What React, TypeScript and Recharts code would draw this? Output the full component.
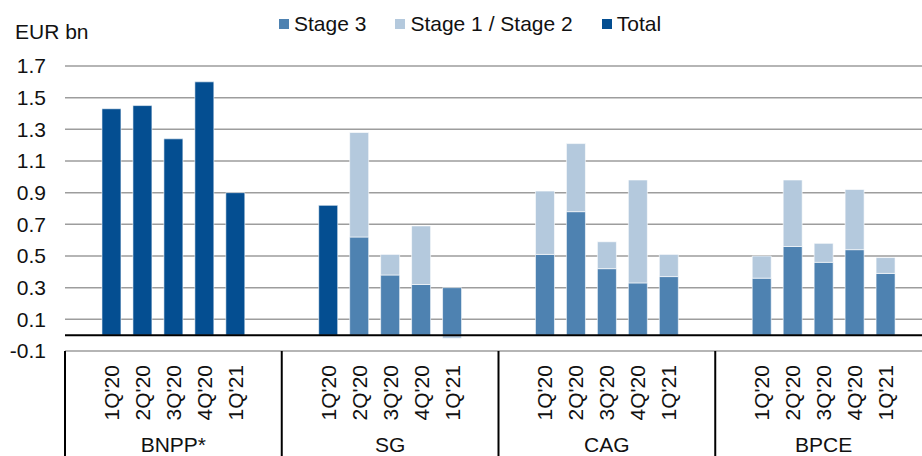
import React from "react";
import {
  BarChart,
  Bar,
  XAxis,
  YAxis,
  CartesianGrid,
  ReferenceLine,
} from "recharts";

const BANKS = ["BNPP*", "SG", "CAG", "BPCE"];
const QUARTERS = ["1Q'20", "2Q'20", "3Q'20", "4Q'20", "1Q'21"];

// EUR bn per bank, one value per quarter (null = not reported that way)
const TOTAL: (number | null)[][] = [
  [1.43, 1.45, 1.24, 1.6, 0.9],
  [0.82, null, null, null, null],
  [null, null, null, null, null],
  [null, null, null, null, null],
];
const STAGE_3: (number | null)[][] = [
  [null, null, null, null, null],
  [null, 0.62, 0.38, 0.32, 0.3],
  [0.51, 0.78, 0.42, 0.33, 0.37],
  [0.36, 0.56, 0.46, 0.54, 0.39],
];
const STAGE_12: (number | null)[][] = [
  [null, null, null, null, null],
  [null, 0.66, 0.13, 0.37, -0.02],
  [0.4, 0.43, 0.17, 0.65, 0.14],
  [0.14, 0.42, 0.12, 0.38, 0.1],
];

const Y_TICKS = [-0.1, 0.1, 0.3, 0.5, 0.7, 0.9, 1.1, 1.3, 1.5, 1.7];

const COLORS = {
  total: "#044e91",
  stage3: "#4e82b1",
  stage12: "#b4c9dd",
};

const FONT = "'Liberation Sans', Arial, sans-serif";
const FONT_SIZE = 21;

const CHART_W = 932;
const CHART_H = 456;
const Y_AXIS_W = 65;
const X_AXIS_H = 105;
const SLOTS_PER_BANK = QUARTERS.length + 2;

// each bank gets an empty slot before and after its five quarters
type Row = {
  key: string;
  bank: string;
  quarter: string;
  total: number | null;
  stage3: number | null;
  stage12: number | null;
};

const rows: Row[] = [];
BANKS.forEach((bank, b) => {
  rows.push({ key: `${bank}-a`, bank, quarter: "", total: null, stage3: null, stage12: null });
  QUARTERS.forEach((q, i) => {
    rows.push({
      key: `${bank}-${q}`,
      bank,
      quarter: q,
      total: TOTAL[b][i],
      stage3: STAGE_3[b][i],
      stage12: STAGE_12[b][i],
    });
  });
  rows.push({ key: `${bank}-b`, bank, quarter: "", total: null, stage3: null, stage12: null });
});

const SLOT = (CHART_W - Y_AXIS_W) / rows.length;

function CategoryTick(props: any) {
  const { x, y, index } = props;
  const row = rows[index];
  if (!row) return null;
  const pos = index % SLOTS_PER_BANK;
  return (
    <g>
      {pos === 0 && (
        <line
          x1={x - SLOT / 2}
          x2={x - SLOT / 2}
          y1={y}
          y2={y + X_AXIS_H}
          stroke="#000"
          strokeWidth={2}
        />
      )}
      {row.quarter && (
        <text
          x={x}
          y={y + 14}
          transform={`rotate(-90 ${x} ${y + 14})`}
          textAnchor="end"
          dy="0.36em"
          fontFamily={FONT}
          fontSize={FONT_SIZE}
          fill="#111"
        >
          {row.quarter}
        </text>
      )}
      {pos === 3 && (
        <text
          x={x}
          y={y + 101}
          textAnchor="middle"
          fontFamily={FONT}
          fontSize={FONT_SIZE}
          fill="#111"
        >
          {row.bank}
        </text>
      )}
    </g>
  );
}

const LEGEND = [
  { label: "Stage 3", color: COLORS.stage3 },
  { label: "Stage 1 / Stage 2", color: COLORS.stage12 },
  { label: "Total", color: COLORS.total },
];

export default function App() {
  return (
    <div
      style={{
        position: "fixed",
        left: 0,
        top: 0,
        width: 922,
        height: 456,
        overflow: "hidden",
        background: "#fff",
        fontFamily: FONT,
        color: "#111",
      }}
    >
      <div
        style={{
          position: "absolute",
          left: 15,
          top: 21,
          fontSize: FONT_SIZE,
          lineHeight: `${FONT_SIZE}px`,
        }}
      >
        EUR bn
      </div>
      <div
        style={{
          position: "absolute",
          left: 279,
          top: 13,
          display: "flex",
          gap: 29,
          fontSize: FONT_SIZE,
          lineHeight: `${FONT_SIZE}px`,
          whiteSpace: "nowrap",
        }}
      >
        {LEGEND.map((item) => (
          <div key={item.label} style={{ display: "flex", alignItems: "center", gap: 5 }}>
            <span style={{ width: 10, height: 10, background: item.color, display: "inline-block" }} />
            <span>{item.label}</span>
          </div>
        ))}
      </div>
      <BarChart
        width={CHART_W}
        height={CHART_H}
        data={rows}
        stackOffset="sign"
        barSize={19}
        margin={{ top: 66, right: 0, bottom: 0, left: 0 }}
      >
        <CartesianGrid vertical={false} stroke="#9d9d9d" strokeWidth={1.5} />
        <XAxis
          dataKey="key"
          interval={0}
          axisLine={false}
          tickLine={false}
          tickSize={0}
          tickMargin={0}
          height={X_AXIS_H}
          tick={<CategoryTick />}
        />
        <YAxis
          domain={[-0.1, 1.7]}
          ticks={Y_TICKS}
          width={Y_AXIS_W}
          axisLine={false}
          tickLine={false}
          tickSize={0}
          tickMargin={19}
          tickFormatter={(v: number) => v.toFixed(1)}
          tick={{ fontSize: FONT_SIZE, fill: "#111", fontFamily: FONT }}
        />
        <Bar dataKey="stage3" stackId="a" fill={COLORS.stage3} stroke="#fff" strokeOpacity={0.6} isAnimationActive={false} />
        <Bar dataKey="stage12" stackId="a" fill={COLORS.stage12} stroke="#fff" strokeOpacity={0.6} isAnimationActive={false} />
        <Bar dataKey="total" stackId="a" fill={COLORS.total} stroke="#fff" strokeOpacity={0.6} isAnimationActive={false} />
        <ReferenceLine y={0} stroke="#000" strokeWidth={2} />
      </BarChart>
    </div>
  );
}
